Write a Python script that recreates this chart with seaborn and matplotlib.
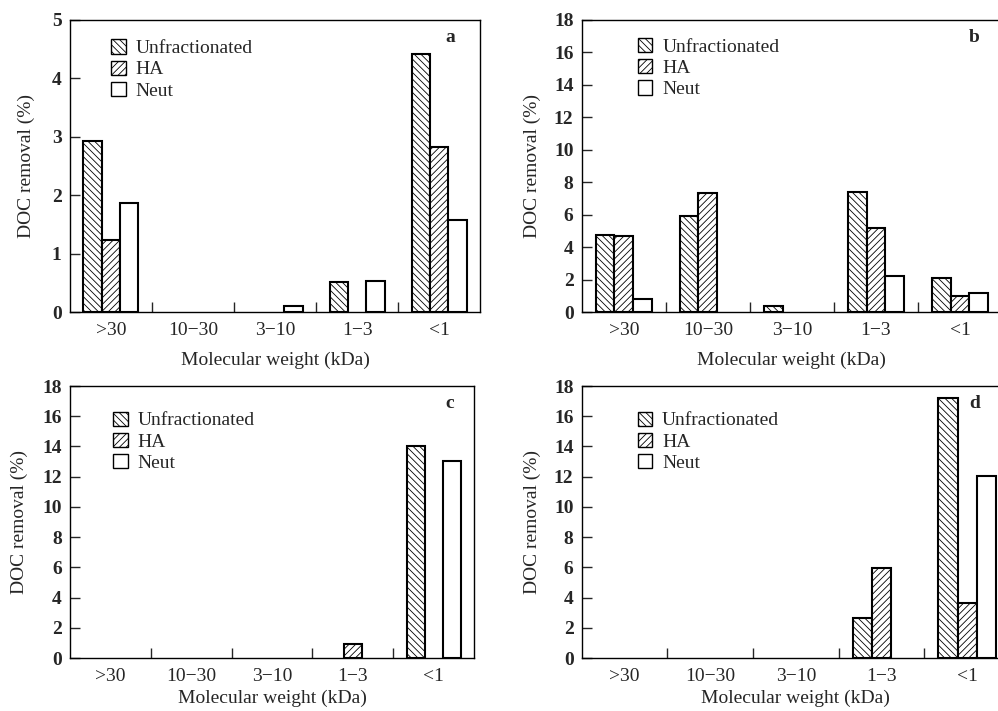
import pandas as pd
import matplotlib
matplotlib.use("Agg")
import matplotlib.pyplot as plt
from matplotlib.patches import Patch
from matplotlib.ticker import FixedLocator
import seaborn as sns

# molecular weight classes (kDa)
categories = [">30", "10\u221230", "3\u221210", "1\u22123", "<1"]
fractions = ["Unfractionated", "HA", "Neut"]

# DOC removal (%)
a_unfrac = [2.92, 0.0, 0.0, 0.51, 4.42]
a_ha = [1.24, 0.0, 0.0, 0.0, 2.82]
a_neut = [1.86, 0.0, 0.10, 0.54, 1.57]

b_unfrac = [4.75, 5.9, 0.35, 7.39, 2.12]
b_ha = [4.67, 7.33, 0.0, 5.2, 0.97]
b_neut = [0.8, 0.0, 0.0, 2.22, 1.15]

c_unfrac = [0.0, 0.0, 0.0, 0.0, 14.04]
c_ha = [0.0, 0.0, 0.0, 0.92, 0.0]
c_neut = [0.0, 0.0, 0.0, 0.0, 13.03]

d_unfrac = [0.0, 0.0, 0.0, 2.63, 17.23]
d_ha = [0.0, 0.0, 0.0, 5.99, 3.62]
d_neut = [0.0, 0.0, 0.0, 0.0, 12.03]

hatches = {"Unfractionated": "\\\\\\\\\\", "HA": "/////", "Neut": ""}

sns.set_style("white")
plt.rcParams["font.family"] = ["Liberation Serif", "DejaVu Serif"]
plt.rcParams["hatch.linewidth"] = 0.6
plt.rcParams["axes.linewidth"] = 1.0


def make_frame(unfrac, ha, neut):
    rows = []
    for name, vals in zip(fractions, [unfrac, ha, neut]):
        for cat, v in zip(categories, vals):
            rows.append({"mw": cat, "fraction": name, "removal": v})
    return pd.DataFrame(rows)


def draw_panel(ax, df, ymax, ystep, letter, letter_xy, legend_xy, ylabelpad, xlabelpad):
    sns.barplot(data=df, x="mw", y="removal", hue="fraction", order=categories,
                hue_order=fractions, palette=["white"] * 3, width=0.67, gap=0,
                edgecolor="black", linewidth=1.5, errorbar=None, legend=False, ax=ax)
    for cont, name in zip(ax.containers, fractions):
        for bar in cont:
            bar.set_hatch(hatches[name])
            if bar.get_height() == 0:
                bar.set_linewidth(0)
                bar.set_hatch("")
    ax.set_xlim(-0.5, 4.5)
    ax.set_ylim(0, ymax)
    ax.set_yticks(range(0, ymax + 1, ystep))
    ax.xaxis.set_minor_locator(FixedLocator([0.5, 1.5, 2.5, 3.5]))
    ax.tick_params(axis="x", which="major", length=0, pad=7, labelsize=14)
    ax.tick_params(axis="x", which="minor", direction="in", length=7, width=1, bottom=True)
    ax.tick_params(axis="y", direction="in", length=7, width=1, left=True, pad=6, labelsize=14)
    for lab in ax.get_yticklabels():
        lab.set_fontweight("bold")
    ax.set_xlabel("Molecular weight (kDa)", fontsize=14, labelpad=xlabelpad)
    ax.set_ylabel("DOC removal (%)", fontsize=14, labelpad=ylabelpad)
    for sp in ax.spines.values():
        sp.set_visible(True)
        sp.set_color("black")
    ax.text(letter_xy[0], letter_xy[1], letter, transform=ax.transAxes,
            fontsize=14, fontweight="bold", ha="center", va="center")
    handles = [Patch(facecolor="white", edgecolor="black", hatch=hatches[n], linewidth=1.0, label=n)
               for n in fractions]
    ax.legend(handles=handles, loc="upper left", bbox_to_anchor=legend_xy, frameon=False,
              fontsize=14, handlelength=0.75, handleheight=0.75, handletextpad=0.5,
              labelspacing=0.17, borderpad=0.2)


fig = plt.figure(figsize=(9.98, 7.11), dpi=100)
ax_a = fig.add_axes([0.0701, 0.561, 0.411, 0.411])
ax_b = fig.add_axes([0.583, 0.561, 0.421, 0.411])
ax_c = fig.add_axes([0.0701, 0.0745, 0.405, 0.3826])
ax_d = fig.add_axes([0.583, 0.0745, 0.429, 0.3826])

draw_panel(ax_a, make_frame(a_unfrac, a_ha, a_neut), 5, 1, "a", (0.927, 0.94), (0.068, 0.98), 12, 9)
draw_panel(ax_b, make_frame(b_unfrac, b_ha, b_neut), 18, 2, "b", (0.933, 0.94), (0.101, 0.985), 9, 9)
draw_panel(ax_c, make_frame(c_unfrac, c_ha, c_neut), 18, 2, "c", (0.94, 0.937), (0.073, 0.956), 10, 3.5)
draw_panel(ax_d, make_frame(d_unfrac, d_ha, d_neut), 18, 2, "d", (0.918, 0.937), (0.099, 0.956), 9, 3.5)

fig.savefig("out.png", dpi=100)
